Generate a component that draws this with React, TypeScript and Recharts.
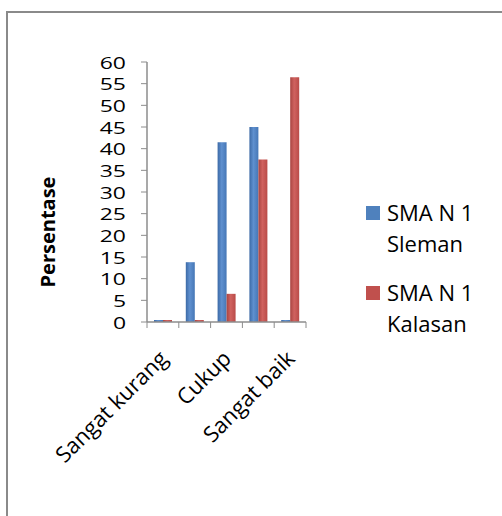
import { BarChart, Bar, XAxis, YAxis, Legend } from "recharts";

const categories = ["Sangat kurang", "Kurang", "Cukup", "Baik", "Sangat baik"];
const slemanValues = [0, 13.8, 41.5, 45, 0];
const kalasanValues = [0, 0, 6.5, 37.5, 56.5];
const seriesNames = ["SMA N 1 Sleman", "SMA N 1 Kalasan"];
const seriesColors = ["#4f81bd", "#c0504d"];
const yTicks = [0, 5, 10, 15, 20, 25, 30, 35, 40, 45, 50, 55, 60];

const data = categories.map((name, i) => ({
  name,
  sleman: slemanValues[i],
  kalasan: kalasanValues[i],
}));

const FONT = '"Open Sans", "Liberation Sans", sans-serif';
const AXIS_GRAY = "#8c8c8c";

// every category gets boundary tick marks, but only every other one is labelled
const CategoryTick = (props: any) => {
  const { x, y, payload, index } = props;
  const half = payload.offset ?? 16;
  const axisY = y - 8;
  return (
    <g>
      <line x1={x - half} y1={axisY} x2={x - half} y2={axisY + 6} stroke={AXIS_GRAY} />
      {index === categories.length - 1 && (
        <line x1={x + half} y1={axisY} x2={x + half} y2={axisY + 6} stroke={AXIS_GRAY} />
      )}
      {index % 2 === 0 && (
        <text
          x={x + 6}
          y={y + 30}
          transform={`rotate(-45 ${x + 6} ${y + 30})`}
          textAnchor="end"
          fontSize={22}
          fontFamily={FONT}
          fill="#000"
        >
          {payload.value}
        </text>
      )}
    </g>
  );
};

// the reference figure is stretched sideways, so the numbers are wide and short
const ValueTick = (props: any) => {
  const { x, y, payload } = props;
  return (
    <text
      transform={`translate(${x} ${y}) scale(1.35 1)`}
      textAnchor="end"
      dominantBaseline="central"
      fontSize={17}
      fontFamily={FONT}
      fill="#000"
    >
      {payload.value}
    </text>
  );
};

const YLabel = ({ viewBox }: any) => {
  const cx = viewBox.x + 10;
  const cy = viewBox.y + viewBox.height / 2 + 40;
  return (
    <text
      x={cx}
      y={cy}
      transform={`rotate(-90 ${cx} ${cy})`}
      textAnchor="middle"
      dominantBaseline="central"
      fontSize={20}
      fontWeight="bold"
      fontFamily={FONT}
      fill="#000"
    >
      Persentase
    </text>
  );
};

const LegendContent = () => (
  <div style={{ fontFamily: FONT, fontSize: 22, lineHeight: "31px", color: "#000" }}>
    {seriesNames.map((name, i) => (
      <div key={name} style={{ display: "flex", alignItems: "flex-start", marginBottom: 18 }}>
        <span
          style={{
            width: 14,
            height: 14,
            background: seriesColors[i],
            marginTop: 9,
            marginRight: 7,
            flexShrink: 0,
          }}
        />
        <span style={{ width: 104 }}>{name}</span>
      </div>
    ))}
  </div>
);

export default function App() {
  return (
    <div
      style={{
        position: "fixed",
        left: 0,
        top: 0,
        width: 502,
        height: 516,
        overflow: "hidden",
        background: "#fff",
      }}
    >
      <div
        style={{
          position: "absolute",
          left: 6,
          top: 11,
          width: 520,
          height: 520,
          borderLeft: "2px solid #8a8a8a",
          borderTop: "2px solid #8a8a8a",
        }}
      />
      <div style={{ position: "absolute", left: 0, top: 0 }}>
        <BarChart
          width={502}
          height={516}
          data={data}
          margin={{ top: 62, right: 196, bottom: 164, left: 37 }}
          barCategoryGap="22%"
          barGap={0}
        >
          <defs>
            <linearGradient id="blueBar" x1="0" y1="0" x2="1" y2="0">
              <stop offset="0%" stopColor="#3c6aa6" />
              <stop offset="45%" stopColor="#5f90cf" />
              <stop offset="100%" stopColor="#4677b6" />
            </linearGradient>
            <linearGradient id="redBar" x1="0" y1="0" x2="1" y2="0">
              <stop offset="0%" stopColor="#a94441" />
              <stop offset="45%" stopColor="#d0625f" />
              <stop offset="100%" stopColor="#b94b48" />
            </linearGradient>
          </defs>
          <XAxis
            dataKey="name"
            interval={0}
            height={30}
            tickLine={false}
            tickSize={6}
            tickMargin={2}
            axisLine={{ stroke: AXIS_GRAY, strokeWidth: 1.5 }}
            tick={<CategoryTick />}
          />
          <YAxis
            width={110}
            domain={[0, 60]}
            ticks={yTicks}
            interval={0}
            tickSize={6}
            tickMargin={15}
            axisLine={{ stroke: AXIS_GRAY, strokeWidth: 1.5 }}
            tickLine={{ stroke: AXIS_GRAY }}
            tick={<ValueTick />}
            label={<YLabel />}
          />
          <Legend
            layout="vertical"
            align="center"
            verticalAlign="middle"
            wrapperStyle={{ left: 366, top: 197, width: 136 }}
            content={<LegendContent />}
          />
          <Bar
            dataKey="sleman"
            name={seriesNames[0]}
            fill="url(#blueBar)"
            minPointSize={2}
            isAnimationActive={false}
          />
          <Bar
            dataKey="kalasan"
            name={seriesNames[1]}
            fill="url(#redBar)"
            minPointSize={2}
            isAnimationActive={false}
          />
        </BarChart>
      </div>
    </div>
  );
}
